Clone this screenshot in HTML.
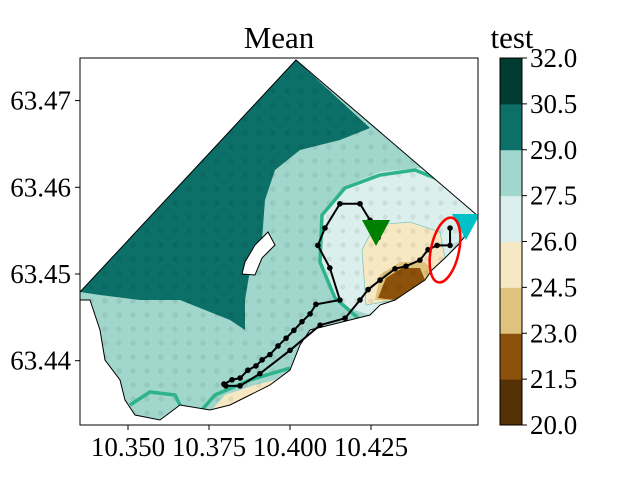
<!DOCTYPE html>
<html><head><meta charset="utf-8"><style>
body{margin:0;background:#fff;}
svg text{font-family:"Liberation Serif",serif;}
</style></head><body>
<svg width="640" height="480" viewBox="0 0 640 480">
<defs>
<pattern id="dots" width="14" height="14" patternUnits="userSpaceOnUse"><circle cx="7" cy="7" r="2.6" fill="#000" fill-opacity="0.07"/></pattern>
<clipPath id="ax"><rect x="80" y="58" width="398" height="367"/></clipPath>
<clipPath id="dom"><path d="M80,292 L296,60 L478,216 L470,230 L458,245 L445,258 L432,270 L425,280 L410,290 L395,300 L380,305 L370,315 L350,320 L330,325 L310,330 L300,345 L290,370 L270,385 L250,395 L230,405 L210,410 L180,405 L160,420 L135,415 L125,400 L120,380 L105,360 L100,330 L90,300 L80,300Z"/></clipPath>
</defs>
<g clip-path="url(#ax)">
<path fill="#a0d6cc" d="M80,292 L296,60 L478,216 L470,230 L458,245 L445,258 L432,270 L425,280 L410,290 L395,300 L380,305 L370,315 L350,320 L330,325 L310,330 L300,345 L290,370 L270,385 L250,395 L230,405 L210,410 L180,405 L160,420 L135,415 L125,400 L120,380 L105,360 L100,330 L90,300 L80,300Z"/>
<g clip-path="url(#dom)">
<path fill="#0c7068" d="M80,292 L296,60 L370,128 L340,140 L300,150 L275,170 L265,200 L262,240 L250,270 L245,300 L245,330 L230,320 L180,300 L140,300 L100,295 Z"/>
<path fill="#dbf0ed" d="M340,305 L322,265 L322,212 L345,186 L380,172 L420,168 L460,190 L478,216 L445,258 L425,280 L395,300 L370,315Z"/>
<path fill="#f6e8c3" stroke="#7fc9bd" stroke-width="0.8" d="M366,305 L362,250 L375,225 L410,222 L440,232 L445,258 L425,280 L395,300Z"/>
<path fill="#dfc27d" d="M375,300 L380,275 L400,262 L425,262 L432,270 L425,280 L410,290 L395,300Z"/>
<path fill="#8c510a" d="M378,298 L386,278 L402,268 L420,268 L425,280 L410,290 L395,300Z"/>
<path fill="#f6e8c3" d="M210,412 L225,395 L255,385 L275,380 L290,370 L270,385 L250,395 L230,405Z"/>
<rect x="80" y="58" width="398" height="367" fill="url(#dots)"/>
<path fill="none" stroke="#2db38a" stroke-width="3.5" d="M358,318 L335,298 L320,262 L322,215 L345,188 L380,175 L415,170 L440,180"/>
<path fill="none" stroke="#2db38a" stroke-width="3.5" d="M185,415 L175,395 L150,392 L130,405 M200,412 L215,395 L250,380 L290,368"/>
</g>
<path fill="#fff" stroke="#000" stroke-width="1" d="M245,262 L255,245 L268,232 L275,245 L262,258 L255,275 L242,274Z"/>
<path fill="none" stroke="#000" stroke-width="1" d="M80,292 L296,60 L478,216 L470,230 L458,245 L445,258 L432,270 L425,280 L410,290 L395,300 L380,305 L370,315 L350,320 L330,325 L310,330 L300,345 L290,370 L270,385 L250,395 L230,405 L210,410 L180,405 L160,420 L135,415 L125,400 L120,380 L105,360 L100,330 L90,300 L80,300"/>
<g id="tracks"></g>
<polygon points="362,220 390,220 376,246" fill="#008000"/>
<polygon points="452,214 480,214 466,240" fill="#00c0c8"/>
<ellipse cx="445" cy="250" rx="14" ry="33" transform="rotate(12 445 250)" fill="none" stroke="#f00" stroke-width="2.5"/>
</g>
<rect x="80" y="58" width="398" height="367" fill="none" stroke="#000" stroke-width="1"/>
<text x="279" y="48" font-size="31" text-anchor="middle">Mean</text>
<g id="xt" font-size="27"></g>
<g id="yt" font-size="27"></g>
<g id="cb"></g>
<text x="512" y="48" font-size="31" text-anchor="middle">test</text>
</svg>
<script>
const xTicks=[10.350,10.375,10.400,10.425];
const yTicks=[63.44,63.45,63.46,63.47];
const cbLevels=[20,21.5,23,24.5,26,27.5,29,30.5,32];
const cbColors=["#543005","#8c510a","#dfc27d","#f6e8c3","#dbf0ed","#a0d6cc","#0c7068","#003c30"];
const track1Lon=[10.3796,10.3821,10.3846,10.3870,10.3895,10.3914,10.3938,10.3963,10.3988,10.4012,10.4037,10.4062,10.4080,10.4154,10.4123,10.4086,10.4108,10.4154,10.4216,10.4247,10.4272];
const track1Lat=[63.4373,63.4378,63.4380,63.4389,63.4394,63.4401,63.4407,63.4417,63.4426,63.4435,63.4445,63.4454,63.4465,63.4470,63.4507,63.4533,63.4553,63.4581,63.4581,63.4562,63.4542];
const track2Lon=[10.3802,10.3846,10.3907,10.4000,10.4093,10.4170,10.4216,10.4241,10.4278,10.4324,10.4358,10.4401,10.4426,10.4454,10.4494,10.4494];
const track2Lat=[63.4371,63.4371,63.4385,63.4412,63.4441,63.4449,63.4470,63.4482,63.4493,63.4506,63.4509,63.4516,63.4528,63.4533,63.4533,63.4553];
const NS="http://www.w3.org/2000/svg";
const X=v=>128+(v-10.350)*3240;
const Y=v=>274-(v-63.45)*8670;
function mk(t,a,p){const e=document.createElementNS(NS,t);for(const k in a)e.setAttribute(k,a[k]);p.appendChild(e);return e;}
const xt=document.getElementById('xt');
xTicks.forEach(v=>{const l=mk('line',{x1:X(v),x2:X(v),y1:425,y2:430,stroke:'#000'},xt);


const t=mk('text',{x:X(v),y:456,'text-anchor':'middle'},xt);t.textContent=v.toFixed(3);

});
const yt=document.getElementById('yt');
yTicks.forEach(v=>{const l=mk('line',{x1:75,x2:80,y1:Y(v),y2:Y(v),stroke:'#000'},yt);


const t=mk('text',{x:71,y:Y(v)+9,'text-anchor':'end'},yt);t.textContent=v.toFixed(2);

});
const tr=document.getElementById('tracks');
[[track1Lon,track1Lat],[track2Lon,track2Lat]].forEach((s,i)=>{
const pl=mk('polyline',{points:s[0].map((v,j)=>X(v)+','+Y(s[1][j])).join(' '),fill:'none',stroke:'#000','stroke-width':2},tr);


s[0].forEach((v,j)=>{const c=mk('circle',{cx:X(v),cy:Y(s[1][j]),r:2.8,fill:'#000'},tr);

});});
const cb=document.getElementById('cb');
const CY=v=>425-(v-20)/12*367;
cbColors.forEach((c,i)=>{const r=mk('rect',{x:500,y:CY(cbLevels[i+1]),width:22,height:CY(cbLevels[i])-CY(cbLevels[i+1])+0.5,fill:c},cb);

});
mk('rect',{x:500,y:58,width:22,height:367,fill:'none',stroke:'#000'},cb);
cbLevels.forEach(v=>{mk('line',{x1:522,x2:527,y1:CY(v),y2:CY(v),stroke:'#000'},cb);
const t=mk('text',{x:530,y:CY(v)+9,'font-size':27},cb);t.textContent=v.toFixed(1);

});
</script>
</body></html>
